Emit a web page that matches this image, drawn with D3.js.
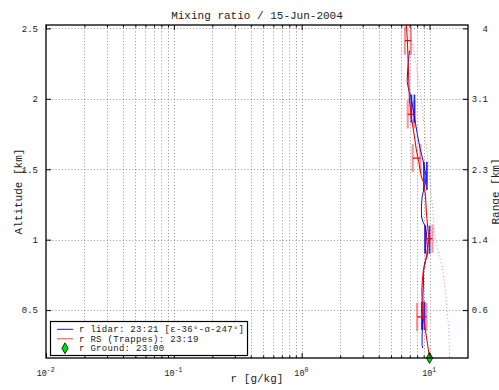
<!DOCTYPE html>
<html><head><meta charset="utf-8">
<script src="https://cdn.jsdelivr.net/npm/d3@7"></script>
<style>body{margin:0;background:#fff;overflow:hidden} text{font-family:"Liberation Mono","Courier New",monospace}</style>
</head><body><svg id="c" width="499" height="390"></svg>
<script>
// ---------- data ----------
const title = "Mixing ratio / 15-Jun-2004";
const xLabel = "r [g/kg]";
const yLabel = "Altitude [km]";
const y2Label = "Range [km]";
const yTicks = [0.5, 1, 1.5, 2, 2.5];
const yTickLabels = ["0.5", "1", "1.5", "2", "2.5"];
const rangeTickLabels = ["0.6", "1.4", "2.3", "3.1", "4"];
const xMajorTicks = [0.01, 0.1, 1, 10];
const xExponents = ["-2", "-1", "0", "1"];
const legendLabels = ["r lidar: 23:21 [\u03b5-36\u00b0-\u03b1-247\u00b0]", "r RS (Trappes): 23:19", "r Ground: 23:00"];

// lidar profile (blue)
const lidarAlt = [2.342, 2.221, 2.122, 2.058, 2.015, 1.958, 1.887, 1.830, 1.745, 1.652, 1.581, 1.517, 1.453, 1.403, 1.353, 1.304, 1.233, 1.161, 1.126, 1.097, 1.048, 0.998, 0.920, 0.877, 0.841, 0.799, 0.749, 0.678, 0.607, 0.536, 0.464, 0.393, 0.308, 0.251, 0.230];
const lidarR   = [6.96, 6.77, 6.68, 6.90, 7.15, 7.35, 7.55, 7.76, 8.04, 8.41, 8.80, 9.12, 9.37, 9.29, 9.01, 8.75, 8.64, 8.67, 8.88, 9.24, 9.46, 9.54, 9.68, 9.54, 9.20, 9.04, 8.96, 8.96, 8.88, 8.88, 8.88, 8.80, 8.75, 8.75, 8.85];
// lidar error bars
const lidarErrAlt  = [0.46, 1.0, 1.453, 1.93];
const lidarErrLow  = [8.71, 9.24, 9.04, 7.21];
const lidarErrHigh = [9.12, 10.0, 9.54, 7.62];

// radiosonde profile (red)
const rsAlt = [0.166, 0.265, 0.379, 0.450, 0.571, 0.642, 0.713, 0.784, 0.841, 0.927, 1.005, 1.069, 1.190, 1.318, 1.410, 1.446, 1.546, 1.638, 1.780, 1.887, 1.994, 2.207, 2.413, 2.527];
const rsR   = [10.0, 9.63, 9.20, 8.91, 8.75, 8.71, 8.80, 8.96, 9.29, 9.63, 9.90, 9.72, 9.46, 9.29, 8.96, 8.64, 8.26, 7.89, 7.48, 7.15, 6.96, 6.84, 6.71, 6.59];
// radiosonde error bars
const rsErrAlt  = [0.452, 1.007, 1.579, 1.89, 2.413];
const rsErrR    = [8.70, 9.90, 7.90, 7.18, 6.78];
const rsErrLow  = [8.00, 9.29, 7.39, 6.75, 6.42];
const rsErrHigh = [9.46, 10.54, 8.49, 7.62, 7.15];

// radiosonde upper curve (pink dotted)
const satAlt = [0.166, 0.358, 0.464, 0.642, 0.799, 0.905, 0.998, 1.119, 1.261, 1.375, 1.517, 1.730, 2.043, 2.278, 2.470, 2.527];
const satR   = [14.31, 14.19, 13.80, 13.32, 12.62, 11.80, 11.12, 10.79, 10.48, 10.16, 9.86, 9.29, 8.49, 7.76, 7.08, 6.90];

// ground measurement
const groundAlt = [0.16];
const groundR = [10.0];

const errHalfHeight = 0.1;

// ---------- chart ----------
const svg = d3.select("#c");
const L = 46, R = 468, T = 25, B = 358;
const x = d3.scaleLog().domain([0.01, 20]).range([L, R]);
const y = d3.scaleLinear().domain([0.16, 2.524]).range([B, T]);

const minorTicks = [];
[0.01, 0.1, 1, 10].forEach(d => { for (let k = 2; k <= 9; k++) { const v = d * k; if (v < 20) minorTicks.push(v); } });

// grid
const grid = svg.append("g").attr("stroke", "#777").attr("stroke-width", 0.8).attr("stroke-dasharray", "1,2.2");
grid.selectAll("line.gx").data(minorTicks.concat(xMajorTicks.slice(1))).enter().append("line")
  .attr("x1", d => Math.round(x(d)) + 0.5).attr("x2", d => Math.round(x(d)) + 0.5).attr("y1", T).attr("y2", B);
grid.selectAll("line.gy").data(yTicks).enter().append("line")
  .attr("x1", L).attr("x2", R).attr("y1", d => Math.round(y(d)) + 0.5).attr("y2", d => Math.round(y(d)) + 0.5);

const plot = svg.append("g");
plot.append("clipPath").attr("id", "clip").append("rect").attr("x", L).attr("y", T).attr("width", R - L).attr("height", B - T);
const pg = plot.append("g").attr("clip-path", "url(#clip)");

// dotted upper curve
pg.append("path").datum(satAlt.map((a, i) => [satR[i], a]))
  .attr("fill", "none").attr("stroke", "#ff8080").attr("stroke-width", 1).attr("stroke-dasharray", "1,2.5")
  .attr("d", d3.line().x(d => x(d[0])).y(d => y(d[1])));

// RS error caps (light)
const rsCaps = pg.append("g").attr("stroke", "#ff4040").attr("stroke-opacity", 0.55).attr("stroke-width", 2.2);
rsErrAlt.forEach((a, i) => {
  [rsErrLow[i], rsErrHigh[i]].forEach(v => {
    rsCaps.append("line").attr("x1", x(v)).attr("x2", x(v)).attr("y1", y(a - errHalfHeight)).attr("y2", y(a + errHalfHeight));
  });
});

// lidar line
pg.append("path").datum(lidarAlt.map((a, i) => [lidarR[i], a]))
  .attr("fill", "none").attr("stroke", "#1010ff").attr("stroke-width", 1)
  .attr("d", d3.line().x(d => x(d[0])).y(d => y(d[1])));

// lidar error caps
const lc = pg.append("g").attr("stroke", "#0000ee").attr("stroke-opacity", 0.8);
lidarErrAlt.forEach((a, i) => {
  [lidarErrLow[i], lidarErrHigh[i]].forEach(v => {
    lc.append("line").attr("stroke-width", 1.8).attr("x1", x(v)).attr("x2", x(v)).attr("y1", y(a - errHalfHeight)).attr("y2", y(a + errHalfHeight));
  });
});

// RS line
pg.append("path").datum(rsAlt.map((a, i) => [rsR[i], a]))
  .attr("fill", "none").attr("stroke", "#ff0000").attr("stroke-width", 1.1)
  .attr("d", d3.line().x(d => x(d[0])).y(d => y(d[1])));

// RS horizontal error bars
pg.append("g").attr("stroke", "#ff0000").attr("stroke-width", 1.3)
  .selectAll("line").data(rsErrAlt).enter().append("line")
  .attr("x1", (d, i) => x(rsErrLow[i])).attr("x2", (d, i) => x(rsErrHigh[i]))
  .attr("y1", d => y(d)).attr("y2", d => y(d));

// ground diamond
const diamond = d3.symbol().type(d3.symbolDiamond).size(34);
plot.selectAll("path.gd").data(groundAlt).enter().append("path")
  .attr("transform", (d, i) => `translate(${x(groundR[i])},${y(d)})`)
  .attr("d", diamond).attr("fill", "#00e000").attr("stroke", "#000").attr("stroke-width", 0.8);

// axes
const fontCol = "#222";
const ax = svg.append("g");
const gB = ax.append("g").attr("transform", `translate(0,${B})`)
  .call(d3.axisBottom(x).tickValues(xMajorTicks).tickSizeInner(-5).tickSizeOuter(0).tickPadding(7).tickFormat(""));
gB.select(".domain").remove();
gB.selectAll(".tick line").attr("stroke", "#000");
gB.selectAll(".tick text").each(function (d, i) {
  const t = d3.select(this).attr("font-size", 8.5).attr("fill", fontCol).attr("y", 12).attr("dx", "-0.1em");
  t.append("tspan").text("10");
  t.append("tspan").attr("dy", -4).attr("font-size", 6.5).text(xExponents[i]);
});
ax.append("g").attr("transform", `translate(0,${B})`)
  .call(d3.axisBottom(x).tickValues(minorTicks).tickSizeInner(-2.5).tickSizeOuter(0).tickFormat(""))
  .call(g => g.select(".domain").remove());
ax.append("g").attr("transform", `translate(0,${T})`)
  .call(d3.axisTop(x).tickValues(xMajorTicks).tickSizeInner(-5).tickSizeOuter(0).tickFormat(""))
  .call(g => g.select(".domain").remove());
ax.append("g").attr("transform", `translate(0,${T})`)
  .call(d3.axisTop(x).tickValues(minorTicks).tickSizeInner(-2.5).tickSizeOuter(0).tickFormat(""))
  .call(g => g.select(".domain").remove());
const gL = ax.append("g").attr("transform", `translate(${L},0)`)
  .call(d3.axisLeft(y).tickValues(yTicks).tickSizeInner(-5).tickSizeOuter(0).tickPadding(8).tickFormat((d, i) => yTickLabels[i]));
gL.select(".domain").remove();
gL.selectAll(".tick text").attr("font-size", 9).attr("fill", fontCol).attr("font-family", "Liberation Mono");
const gR = ax.append("g").attr("transform", `translate(${R},0)`)
  .call(d3.axisRight(y).tickValues(yTicks).tickSizeInner(-5).tickSizeOuter(0).tickPadding(20).tickFormat((d, i) => rangeTickLabels[i]));
gR.select(".domain").remove();
gR.selectAll(".tick text").attr("font-size", 9).attr("fill", fontCol).attr("text-anchor", "end").attr("font-family", "Liberation Mono");
ax.append("rect").attr("x", L).attr("y", T).attr("width", R - L).attr("height", B - T)
  .attr("fill", "none").attr("stroke", "#000").attr("stroke-width", 1.3);

// labels
svg.append("text").attr("x", (L + R) / 2).attr("y", 19).attr("text-anchor", "middle")
  .attr("font-size", 11).attr("fill", fontCol).text(title);
svg.append("text").attr("x", 257).attr("y", 382).attr("text-anchor", "middle")
  .attr("font-size", 11).attr("fill", fontCol).text(xLabel);
svg.append("text").attr("transform", `translate(22,${(T + B) / 2}) rotate(-90)`).attr("text-anchor", "middle")
  .attr("font-size", 11).attr("fill", fontCol).text(yLabel);
svg.append("text").attr("transform", `translate(499,${(T + B) / 2}) rotate(-90)`).attr("text-anchor", "middle")
  .attr("font-size", 11).attr("fill", fontCol).text(y2Label);

// legend
const lg = svg.append("g");
lg.append("rect").attr("x", 50.5).attr("y", 321.5).attr("width", 197).attr("height", 34)
  .attr("fill", "#fff").attr("stroke", "#000").attr("stroke-width", 1.2);
const rowY = [329.3, 338.8, 348.3];
lg.append("line").attr("x1", 57).attr("x2", 73).attr("y1", rowY[0]).attr("y2", rowY[0]).attr("stroke", "#1010ff").attr("stroke-width", 1);
lg.append("line").attr("x1", 57).attr("x2", 73).attr("y1", rowY[1]).attr("y2", rowY[1]).attr("stroke", "#ff6060").attr("stroke-width", 1.2);
lg.append("path").attr("transform", `translate(65,${rowY[2]})`).attr("d", diamond).attr("fill", "#00e000").attr("stroke", "#000").attr("stroke-width", 0.8);
lg.selectAll("text").data(legendLabels).enter().append("text")
  .attr("x", 79).attr("y", (d, i) => rowY[i] + 3).attr("font-size", 9).attr("letter-spacing", 0.3).attr("fill", fontCol).text(d => d);
</script>
</body></html>
